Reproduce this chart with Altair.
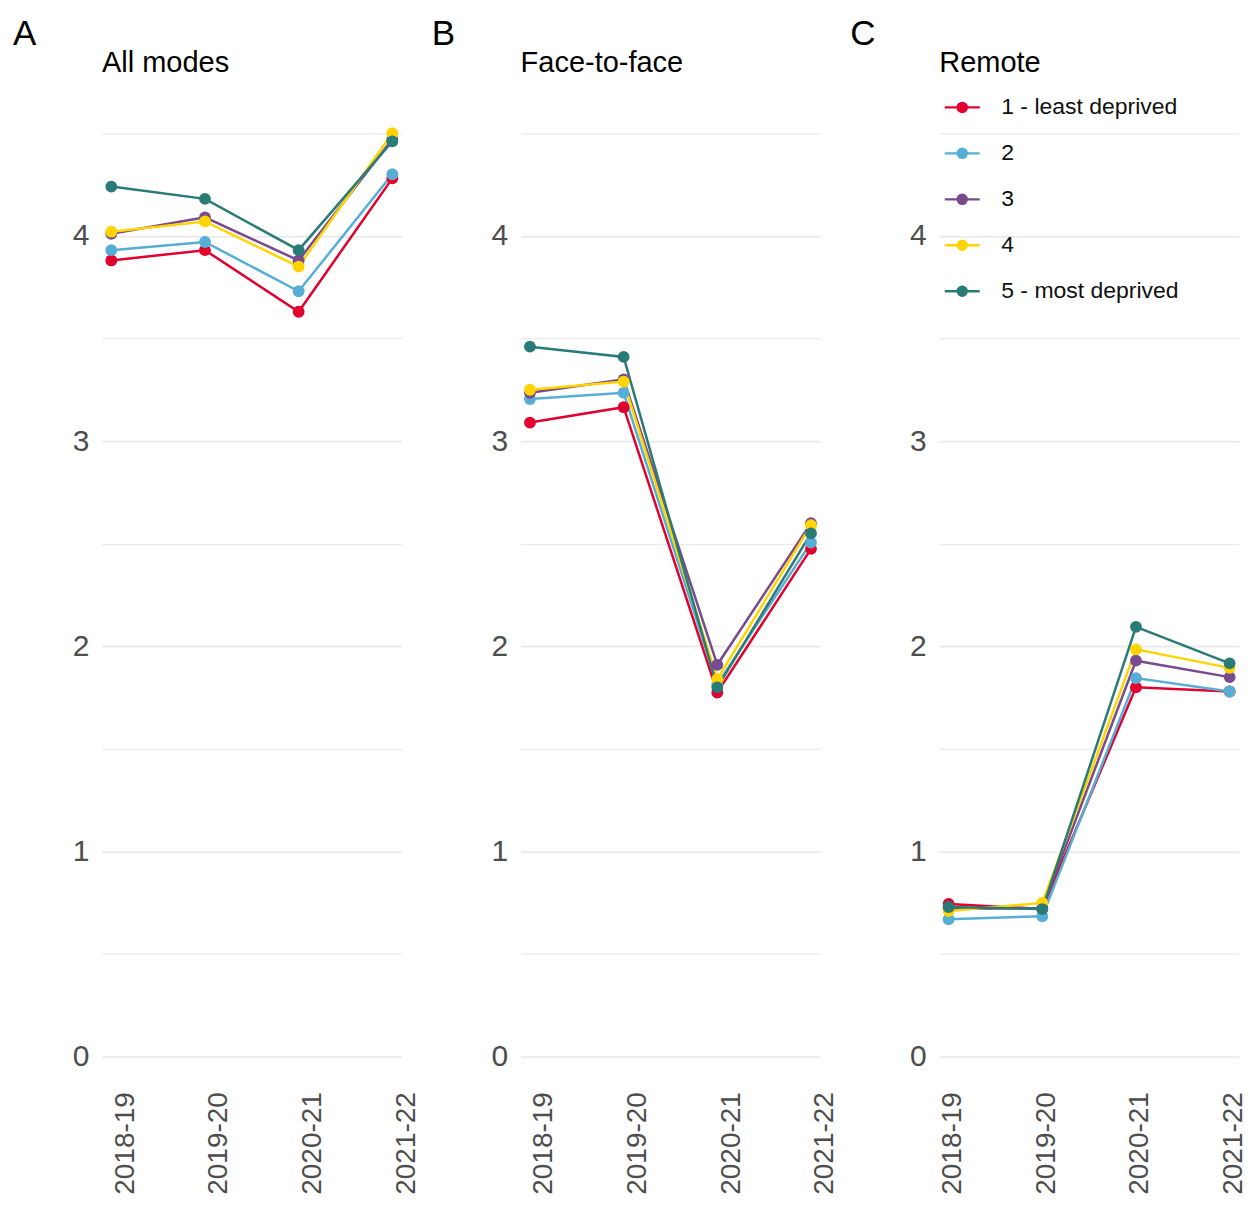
import altair as alt
import pandas as pd

years = ["2018-19", "2019-20", "2020-21", "2021-22"]
groups = ["1 - least deprived", "2", "3", "4", "5 - most deprived"]
panels = ["All modes", "Face-to-face", "Remote"]
letters = ["A", "B", "C"]
colors = ["#E2002E", "#57AED5", "#784A8E", "#FFD400", "#2A7A77"]

# values per group (rows follow `groups`), columns follow `years`
all_modes = [
    [3.88, 3.93, 3.63, 4.28],
    [3.93, 3.97, 3.73, 4.30],
    [4.01, 4.09, 3.88, 4.47],
    [4.02, 4.07, 3.85, 4.50],
    [4.24, 4.18, 3.93, 4.46],
]
face_to_face = [
    [3.09, 3.165, 1.775, 2.475],
    [3.205, 3.235, 1.815, 2.505],
    [3.235, 3.30, 1.91, 2.60],
    [3.25, 3.29, 1.84, 2.59],
    [3.46, 3.41, 1.80, 2.55],
]
remote = [
    [0.745, 0.72, 1.80, 1.78],
    [0.67, 0.685, 1.845, 1.78],
    [0.72, 0.725, 1.93, 1.85],
    [0.71, 0.75, 1.985, 1.895],
    [0.73, 0.72, 2.095, 1.917],
]
panel_values = [all_modes, face_to_face, remote]

y_ticks = [0, 0.5, 1, 1.5, 2, 2.5, 3, 3.5, 4, 4.5]

rows = []
for p, vals in zip(panels, panel_values):
    for g, series in zip(groups, vals):
        for yr, v in zip(years, series):
            rows.append({"panel": p, "group": g, "year": yr, "value": v})
df = pd.DataFrame(rows)

FONT = "Liberation Sans"
LEGEND_PATH = (
    "M-1,0H1"
    "M-0.26,0a0.26,0.26 0 1,0 0.52,0a0.26,0.26 0 1,0 -0.52,0"
    "M-0.16,0a0.16,0.16 0 1,0 0.32,0a0.16,0.16 0 1,0 -0.32,0"
    "M-0.06,0a0.06,0.06 0 1,0 0.12,0a0.06,0.06 0 1,0 -0.12,0"
)

color = alt.Color(
    "group:N",
    scale=alt.Scale(domain=groups, range=colors),
    legend=alt.Legend(
        title=None, orient="none", legendX=842, legendY=-14,
        symbolType=LEGEND_PATH, symbolSize=1225, symbolStrokeWidth=2.4,
        labelFontSize=23, labelFont=FONT, labelColor="#111111", labelLimit=400,
        labelOffset=20, rowPadding=15, padding=0,
    ),
)


def panel(i):
    d = df[df.panel == panels[i]]
    last = i == len(panels) - 1
    x = alt.X(
        "year:N", sort=years,
        scale=alt.Scale(type="point", padding=0.1),
        axis=alt.Axis(title=None, labelAngle=-90, labelAlign="right",
                      labelBaseline="middle" if last else "top",
                      labelOffset=4 if last else 0,
                      labelFontSize=28, labelFont=FONT,
                      labelColor="#4D4D4D", labelPadding=4, ticks=False,
                      domain=False, grid=False),
    )
    y = alt.Y(
        "value:Q",
        scale=alt.Scale(domain=[-0.15, 4.65], nice=False, zero=False),
        axis=alt.Axis(
            title=None, values=y_ticks,
            labelExpr="datum.value % 1 == 0 ? format(datum.value, 'd') : ''",
            labelFontSize=30, labelFont=FONT, labelColor="#4D4D4D",
            labelPadding=13, ticks=False, domain=False,
            gridColor="#EBEBEB",
            gridWidth={"condition": {"test": "datum.value % 1 == 0", "value": 2},
                       "value": 1.2},
        ),
    )
    base = alt.Chart(d)
    lines = base.mark_line(strokeWidth=2.5).encode(x=x, y=y, color=color,
                                                   order=alt.Order("year:N"))
    pts = base.mark_point(filled=True, size=140, opacity=1).encode(x=x, y=y, color=color)
    lab = pd.DataFrame({"t": [letters[i]], "s": [panels[i]]})
    letter = alt.Chart(lab).mark_text(
        align="left", baseline="alphabetic", fontSize=35, font=FONT, color="black"
    ).encode(text="t:N", x=alt.value(-89), y=alt.value(-57))
    title = alt.Chart(lab).mark_text(
        align="left", baseline="alphabetic", fontSize=29, font=FONT, color="black"
    ).encode(text="s:N", x=alt.value(0), y=alt.value(-30))
    return alt.layer(lines, pts, letter, title).properties(width=300, height=986)


chart = alt.hconcat(panel(0), panel(1), panel(2), spacing=119, bounds="flush").configure_view(
    stroke=None
).properties(padding={"left": 5, "top": 9, "right": 0, "bottom": 0})

chart.save("out.html", embed_options={"renderer": "svg", "actions": False})
